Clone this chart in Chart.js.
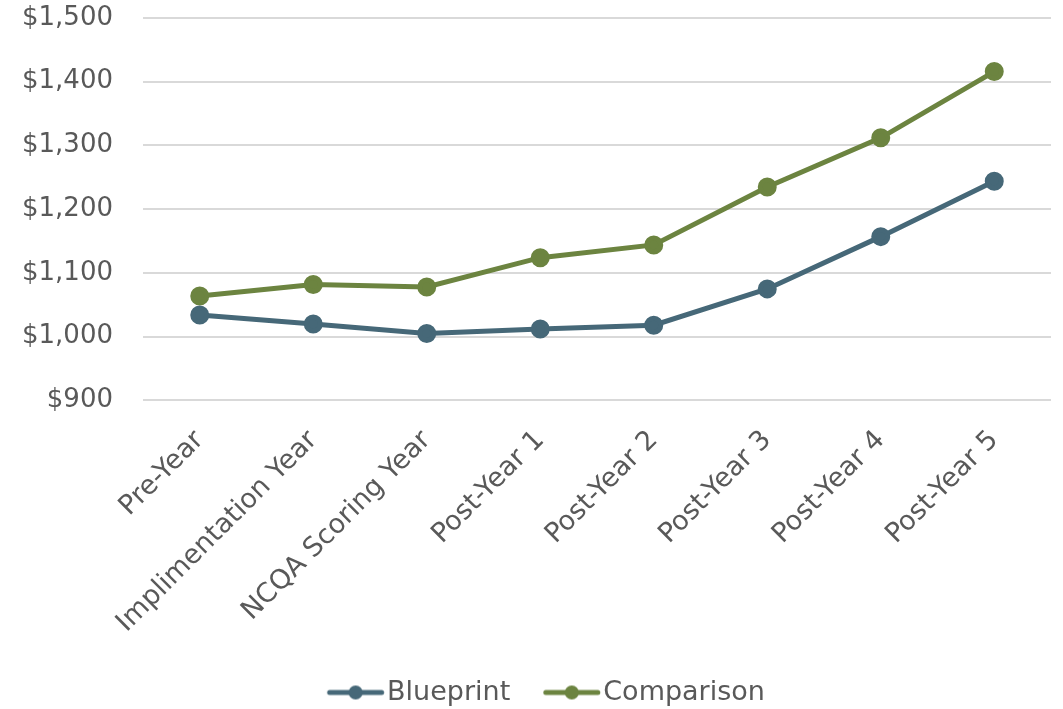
<!DOCTYPE html>
<html>
<head>
<meta charset="utf-8">
<style>
  html, body { margin: 0; padding: 0; background: #fff; }
  #wrap { width: 1063px; height: 709px; }
</style>
</head>
<body>
<div id="wrap"><canvas id="chart"></canvas></div>
<script src="https://cdn.jsdelivr.net/npm/chart.js"></script>
<script>
const categories = ['Pre-Year', 'Implimentation Year', 'NCQA Scoring Year', 'Post-Year 1', 'Post-Year 2', 'Post-Year 3', 'Post-Year 4', 'Post-Year 5'];
const blueprint = [1034, 1020, 1005, 1012, 1018, 1075, 1157, 1244];
const comparison = [1064, 1082, 1078, 1124, 1144, 1235, 1312, 1416];
const yMin = 900;
const yMax = 1500;
const yStep = 100;

const BLUE = '#466878';
const GREEN = '#6c8440';
const TEXT = '#595959';
const FONT = '"DejaVu Sans", sans-serif';

// legend marker: line with a dot, shifted right so it sits close to the text
function legendMarker(color) {
  const c = document.createElement('canvas');
  c.width = 98; c.height = 16;
  const g = c.getContext('2d');
  g.strokeStyle = color;
  g.lineWidth = 5;
  g.lineCap = 'round';
  g.beginPath(); g.moveTo(40.75, 8); g.lineTo(92.75, 8); g.stroke();
  g.fillStyle = color;
  g.beginPath(); g.arc(66.75, 8, 7, 0, Math.PI * 2); g.fill();
  return c;
}

const ctx = document.getElementById('chart').getContext('2d');
new Chart(ctx, {
  type: 'line',
  data: {
    labels: categories,
    datasets: [
      { label: 'Blueprint', data: blueprint, borderColor: BLUE, backgroundColor: BLUE,
        borderWidth: 5, pointRadius: 7, pointHoverRadius: 7, tension: 0 },
      { label: 'Comparison', data: comparison, borderColor: GREEN, backgroundColor: GREEN,
        borderWidth: 5, pointRadius: 7, pointHoverRadius: 7, tension: 0 }
    ]
  },
  options: {
    responsive: true,
    maintainAspectRatio: false,
    animation: false,
    layout: { padding: { top: 0, right: 8, left: 12, bottom: -7 } },
    plugins: {
      tooltip: { enabled: false },
      legend: {
        position: 'bottom',
        labels: {
          font: { family: FONT, size: 27 },
          color: TEXT,
          usePointStyle: true,
          pointStyleWidth: 71.5,
          padding: 8,
          generateLabels: chart => chart.data.datasets.map((ds, i) => ({
            text: ds.label,
            fillStyle: ds.borderColor,
            strokeStyle: ds.borderColor,
            fontColor: TEXT,
            pointStyle: legendMarker(ds.borderColor),
            datasetIndex: i,
            hidden: false
          }))
        }
      }
    },
    scales: {
      x: {
        offset: true,
        grid: { display: false },
        border: { display: false },
        afterFit: s => { s.paddingLeft = 0; s.paddingRight = 0; s.height += 16; },
        ticks: {
          font: { family: FONT, size: 27 },
          color: TEXT,
          padding: 16,
          minRotation: 45,
          maxRotation: 45,
          autoSkip: false
        }
      },
      y: {
        min: yMin,
        max: yMax,
        grid: { color: '#d9d9d9', lineWidth: 2, drawTicks: false },
        border: { display: false },
        afterFit: s => { s.width = 131; s.paddingTop = 18; },
        ticks: {
          stepSize: yStep,
          padding: 30,
          font: { family: FONT, size: 26 },
          color: TEXT,
          callback: v => '$' + v.toLocaleString('en-US')
        }
      }
    }
  }
});
</script>
</body>
</html>
